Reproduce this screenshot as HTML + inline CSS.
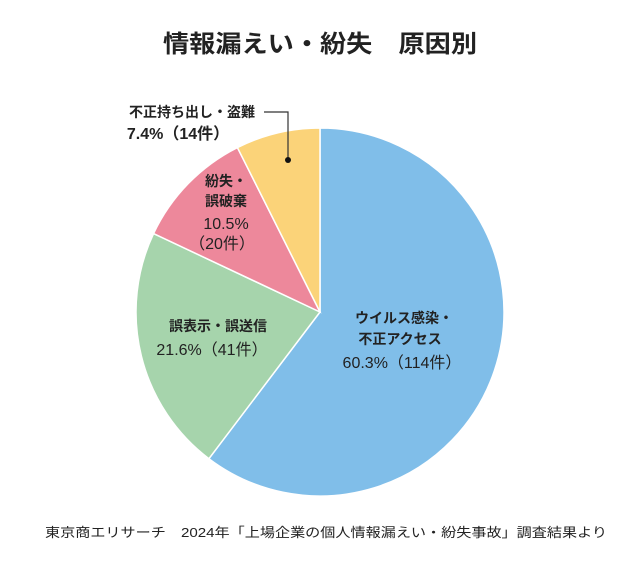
<!DOCTYPE html>
<html><head><meta charset="utf-8"><style>
body{margin:0;background:#fff}
svg text{font-family:"Liberation Sans","Noto Sans CJK JP",sans-serif}
</style></head><body>
<svg width="640" height="560" viewBox="0 0 640 560">
<text x="163" y="52" font-size="24" font-weight="bold" fill="#222" textLength="314" lengthAdjust="spacingAndGlyphs">情報漏えい・紛失　原因別</text>
<g id="slices"></g>
<polyline points="264,112 288,112 288,160" fill="none" stroke="#333" stroke-width="1.2"/>
<circle cx="288" cy="160" r="3" fill="#111"/>
<g font-weight="bold" fill="#222" text-anchor="middle" font-size="14">
<text x="192" y="117" font-size="14">不正持ち出し・盗難</text>
<text x="178" y="139" font-size="16">7.4%（14件）</text>
<text x="226" y="186">紛失・</text>
<text x="226" y="206">誤破棄</text>
<text x="226" y="229" font-size="16" font-weight="normal">10.5%</text>
<text x="222" y="249" font-size="16" font-weight="normal">（20件）</text>
<text x="218" y="331">誤表示・誤送信</text>
<text x="212" y="355" font-size="16" font-weight="normal">21.6%（41件）</text>
<text x="404" y="323">ウイルス感染・</text>
<text x="400" y="344">不正アクセス</text>
<text x="402" y="368" font-size="16" font-weight="normal">60.3%（114件）</text>
</g>
<text x="45" y="537" font-size="13" fill="#222" textLength="562" lengthAdjust="spacingAndGlyphs">東京商エリサーチ　2024年「上場企業の個人情報漏えい・紛失事故」調査結果より</text>
</svg>
<script>
const categories=["ウイルス感染・不正アクセス","誤表示・誤送信","紛失・誤破棄","不正持ち出し・盗難"];
const counts=[114,41,20,14];
const colors=["#80bee9","#a6d4ac","#ed889b","#fbd379"];
const cx=320,cy=312,r=184;
const total=counts.reduce((a,b)=>a+b,0);
const g=document.getElementById('slices');
let a0=0;
function pt(a){return [cx+r*Math.sin(a),cy-r*Math.cos(a)];}
counts.forEach((v,i)=>{
  const a1=a0+v/total*2*Math.PI;
  const p0=pt(a0),p1=pt(a1);
  const large=(a1-a0)>Math.PI?1:0;
  const p=document.createElementNS('http://www.w3.org/2000/svg','path');
  p.setAttribute('d',`M${cx},${cy}L${p0[0]},${p0[1]}A${r},${r} 0 ${large} 1 ${p1[0]},${p1[1]}Z`);
  p.setAttribute('fill',colors[i]);
  p.setAttribute('stroke','#fff');
  p.setAttribute('stroke-width','1.5');
  
  
  g.appendChild(p);
  a0=a1;
});
</script>
</body></html>
